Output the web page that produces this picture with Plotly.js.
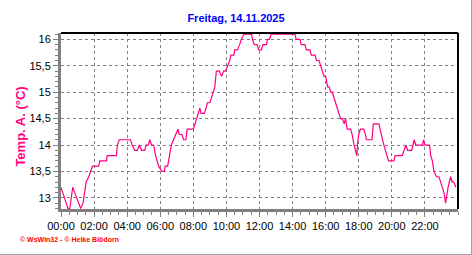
<!DOCTYPE html>
<html>
<head>
<meta charset="utf-8">
<script src="https://cdn.plot.ly/plotly-3.0.1.min.js"></script>
<style>
  html, body { margin: 0; padding: 0; background: #fff; }
  #wrap { position: relative; width: 472px; height: 255px; }
  #chart { width: 472px; height: 255px; }
  #frame { position: absolute; left: 0; top: 0; width: 471px; height: 254px;
           border-right: 1px solid #a0a0a0; border-bottom: 1px solid #a0a0a0; pointer-events: none; }
</style>
</head>
<body>
<div id="wrap"><div id="chart"></div><div id="frame"></div></div>
<script>
// time of day in hours
const hours = [
  0.00, 0.22, 0.42, 0.53, 0.71, 0.83, 1.07, 1.19, 1.33, 1.43, 1.52, 1.68, 1.80, 1.90,
  2.28, 2.34, 2.75, 2.79, 3.35, 3.41, 3.52, 4.20, 4.30, 4.46, 4.62, 4.73, 4.87, 5.07,
  5.13, 5.27, 5.37, 5.47, 5.60, 5.72, 5.90, 6.10, 6.24, 6.30, 6.45, 6.55, 6.67, 6.80,
  6.95, 7.07, 7.15, 7.31, 7.41, 7.55, 7.63, 7.70, 8.00, 8.10, 8.20, 8.30, 8.40, 8.46,
  8.66, 8.77, 8.85, 9.00, 9.10, 9.20, 9.30, 9.39, 9.47, 9.57, 9.71, 9.83, 9.95, 10.07,
  10.20, 10.27, 10.45, 10.50, 10.67, 10.80, 10.90, 11.07, 11.52, 11.58, 11.68, 11.85,
  11.95, 12.12, 12.20, 12.42, 12.48, 12.60, 12.70, 14.14, 14.22, 14.44, 14.52, 14.75,
  14.83, 15.05, 15.13, 15.36, 15.44, 15.60, 15.70, 15.80, 15.90, 16.00, 16.12, 16.22,
  16.30, 16.40, 16.50, 16.60, 16.70, 16.80, 16.90, 17.00, 17.12, 17.20, 17.30, 17.50,
  17.60, 17.72, 17.80, 17.88, 17.92, 18.00, 18.10, 18.20, 18.30, 18.40, 18.46, 18.80,
  18.88, 19.22, 19.28, 19.36, 19.44, 19.52, 19.60, 19.68, 19.80, 20.12, 20.20, 20.63,
  20.73, 20.85, 20.95, 21.20, 21.35, 21.45, 21.85, 21.92, 22.00, 22.28, 22.35, 22.45,
  22.55, 22.70, 22.85, 22.95, 23.05, 23.15, 23.25, 23.30, 23.40, 23.55, 23.65, 23.75,
  23.87
];
// outside temperature (°C)
const tempA = [
  13.2, 13.0, 12.8, 12.8, 13.2, 13.1, 12.9, 12.8, 12.9, 13.1, 13.3, 13.4, 13.5, 13.6,
  13.6, 13.7, 13.7, 13.8, 13.8, 14.0, 14.1, 14.1, 14.0, 13.9, 13.9, 14.0, 13.9, 13.9,
  14.0, 14.0, 14.1, 14.0, 14.0, 13.8, 13.6, 13.5, 13.5, 13.6, 13.6, 13.8, 14.0, 14.1,
  14.2, 14.3, 14.2, 14.2, 14.1, 14.1, 14.3, 14.3, 14.3, 14.4, 14.5, 14.6, 14.7, 14.6,
  14.6, 14.7, 14.8, 14.8, 14.9, 15.0, 15.1, 15.4, 15.4, 15.4, 15.3, 15.4, 15.4, 15.5,
  15.6, 15.7, 15.7, 15.8, 15.8, 15.9, 16.0, 16.1, 16.1, 16.0, 15.9, 15.9,
  15.8, 15.8, 15.9, 15.9, 16.0, 16.0, 16.1, 16.1, 16.0, 16.0, 15.9, 15.9,
  15.8, 15.8, 15.7, 15.7, 15.6, 15.6, 15.5, 15.4, 15.3, 15.3, 15.1, 15.1,
  15.0, 15.0, 14.9, 14.8, 14.7, 14.6, 14.5, 14.5, 14.4, 14.5, 14.3, 14.3,
  14.2, 14.0, 13.9, 13.8, 14.0, 14.2, 14.3, 14.3, 14.3, 14.2, 14.1, 14.1,
  14.4, 14.4, 14.3, 14.2, 14.1, 14.0, 13.9, 13.8, 13.7, 13.7, 13.8, 13.8,
  13.9, 14.0, 13.9, 13.9, 14.1, 14.0, 14.0, 14.1, 14.0, 14.0, 13.8, 13.7,
  13.5, 13.4, 13.4, 13.3, 13.2, 13.1, 12.9, 13.0, 13.2, 13.4, 13.3, 13.3,
  13.2
];
const xTickVals = [0, 2, 4, 6, 8, 10, 12, 14, 16, 18, 20, 22];
const xTickText = ["00:00", "02:00", "04:00", "06:00", "08:00", "10:00", "12:00",
                   "14:00", "16:00", "18:00", "20:00", "22:00"];
const yTickVals = [13, 13.5, 14, 14.5, 15, 15.5, 16];
const yTickText = ["13", "13,5", "14", "14,5", "15", "15,5", "16"];

const chartTitle = "Freitag, 14.11.2025";
const yTitle = "Temp. A. (°C)";
const footer = "© WsWin32 - © Heike Blödorn";

const tickFont = { family: "Arial, Liberation Sans, sans-serif", size: 11, color: "#000" };

const trace = {
  x: hours, y: tempA, type: "scatter", mode: "lines",
  line: { color: "#ff0080", width: 1.2 },
  hoverinfo: "skip"
};

const layout = {
  width: 472, height: 255,
  margin: { l: 61, r: 14, t: 33, b: 46 },
  paper_bgcolor: "#fff", plot_bgcolor: "#fff",
  showlegend: false,
  title: {
    text: "<b>" + chartTitle + "</b>",
    font: { family: "Arial, Liberation Sans, sans-serif", size: 11, color: "#0000ff" },
    x: 0.5, xref: "container", xanchor: "center",
    y: 0.93, yref: "container", yanchor: "middle"
  },
  xaxis: {
    range: [0, 24],
    tickmode: "array", tickvals: xTickVals, ticktext: xTickText,
    showgrid: true, gridcolor: "#808080", gridwidth: 1, griddash: "3px,3px",
    showline: true, linecolor: "#808080", linewidth: 3,
    ticks: "outside", ticklen: 5, tickcolor: "#808080", tickwidth: 1,
    minor: { tickmode: "linear", tick0: 0, dtick: 0.5, ticks: "outside", ticklen: 3,
             tickcolor: "#808080", showgrid: false },
    zeroline: false, tickfont: tickFont, fixedrange: true
  },
  yaxis: {
    range: [12.79, 16.12],
    tickmode: "array", tickvals: yTickVals, ticktext: yTickText,
    showgrid: true, gridcolor: "#808080", gridwidth: 1, griddash: "3px,3px",
    showline: true, linecolor: "#808080", linewidth: 3,
    ticks: "outside", ticklen: 5, tickcolor: "#808080", tickwidth: 1,
    minor: { tickmode: "linear", tick0: 13, dtick: 0.1, ticks: "outside", ticklen: 3,
             tickcolor: "#808080", showgrid: false },
    zeroline: false, tickfont: tickFont, fixedrange: true,
    automargin: false
  },
  shapes: [
    { type: "line", xref: "paper", yref: "paper", x0: 0, x1: 1, y0: 1, y1: 1,
      line: { color: "#000", width: 2 } },
    { type: "line", xref: "paper", yref: "paper", x0: 1, x1: 1, y0: 0, y1: 1,
      line: { color: "#000", width: 2 } }
  ],
  annotations: [
    { text: "<b>" + yTitle + "</b>", xref: "paper", yref: "paper",
      x: -0.1008, y: 0.468, xanchor: "center", yanchor: "middle", textangle: -90,
      showarrow: false,
      font: { family: "Arial, Liberation Sans, sans-serif", size: 13, color: "#ff0080" } },
    { text: "<b>" + footer + "</b>", xref: "paper", yref: "paper",
      x: -0.108, y: -0.176, xanchor: "left", yanchor: "middle", showarrow: false,
      font: { family: "Arial, Liberation Sans, sans-serif", size: 7, color: "#ff0000" } }
  ]
};

Plotly.newPlot("chart", [trace], layout, { displayModeBar: false, staticPlot: true });
</script>
</body>
</html>
